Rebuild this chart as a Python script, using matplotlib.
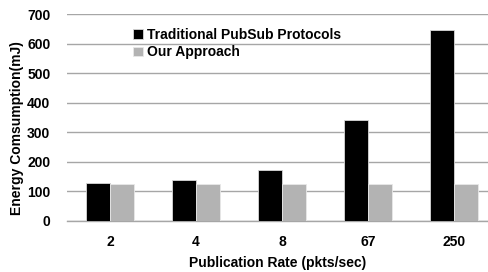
import matplotlib
matplotlib.use("Agg")
import matplotlib.pyplot as plt
import numpy as np

categories = ["2", "4", "8", "67", "250"]
traditional = [130, 137, 172, 340, 647]
our_approach = [125, 125, 125, 125, 125]
series_names = ["Traditional PubSub Protocols", "Our Approach"]

plt.rcParams['font.family'] = ['Liberation Sans', 'DejaVu Sans']
plt.rcParams['font.weight'] = 'bold'

W, H = 489, 272
fig = plt.figure(figsize=(W/100, H/100), dpi=100)
ax = fig.add_axes([67/W, 1-221/H, (W-67)/W, (221-14)/H])

x = np.arange(len(categories))
bw = 0.28
ax.bar(x - bw/2, traditional, bw, color='black', edgecolor='#d8d8d8', linewidth=0.6,
       label=series_names[0], zorder=3)
ax.bar(x + bw/2, our_approach, bw, color='#b3b3b3', edgecolor='#e8e8e8', linewidth=0.6,
       label=series_names[1], zorder=3)

ax.set_ylim(0, 700)
ax.set_yticks(np.arange(0, 701, 100))
ax.set_xlim(-0.5, 4.5 - 8/86)
ax.set_xticks(x)
ax.set_xticklabels(categories)
ax.yaxis.grid(True, color='#a6a6a6', linewidth=1.0, zorder=0)
ax.set_axisbelow(True)
for s in ['top', 'right', 'left']:
    ax.spines[s].set_visible(False)
ax.spines['bottom'].set_color('#a6a6a6')
ax.spines['bottom'].set_linewidth(1.0)
ax.tick_params(axis='both', length=0, labelsize=10)
ax.tick_params(axis='x', pad=10)
ax.tick_params(axis='y', pad=12)

ax.set_xlabel("Publication Rate (pkts/sec)", fontsize=10, fontweight='bold', labelpad=5)
ax.set_ylabel("Energy Comsumption(mJ)", fontsize=10, fontweight='bold')
ax.yaxis.set_label_coords((24-67)/(W-67), (221-128)/(221-14))

leg = ax.legend(loc='upper left', bbox_to_anchor=((133-67)/(W-67), 1-(28-14)/(221-14)),
                frameon=False, fontsize=10, handlelength=0.7, handleheight=0.7,
                handletextpad=0.3, labelspacing=0.25, borderpad=0, borderaxespad=0)

fig.savefig("out.png", dpi=100)
